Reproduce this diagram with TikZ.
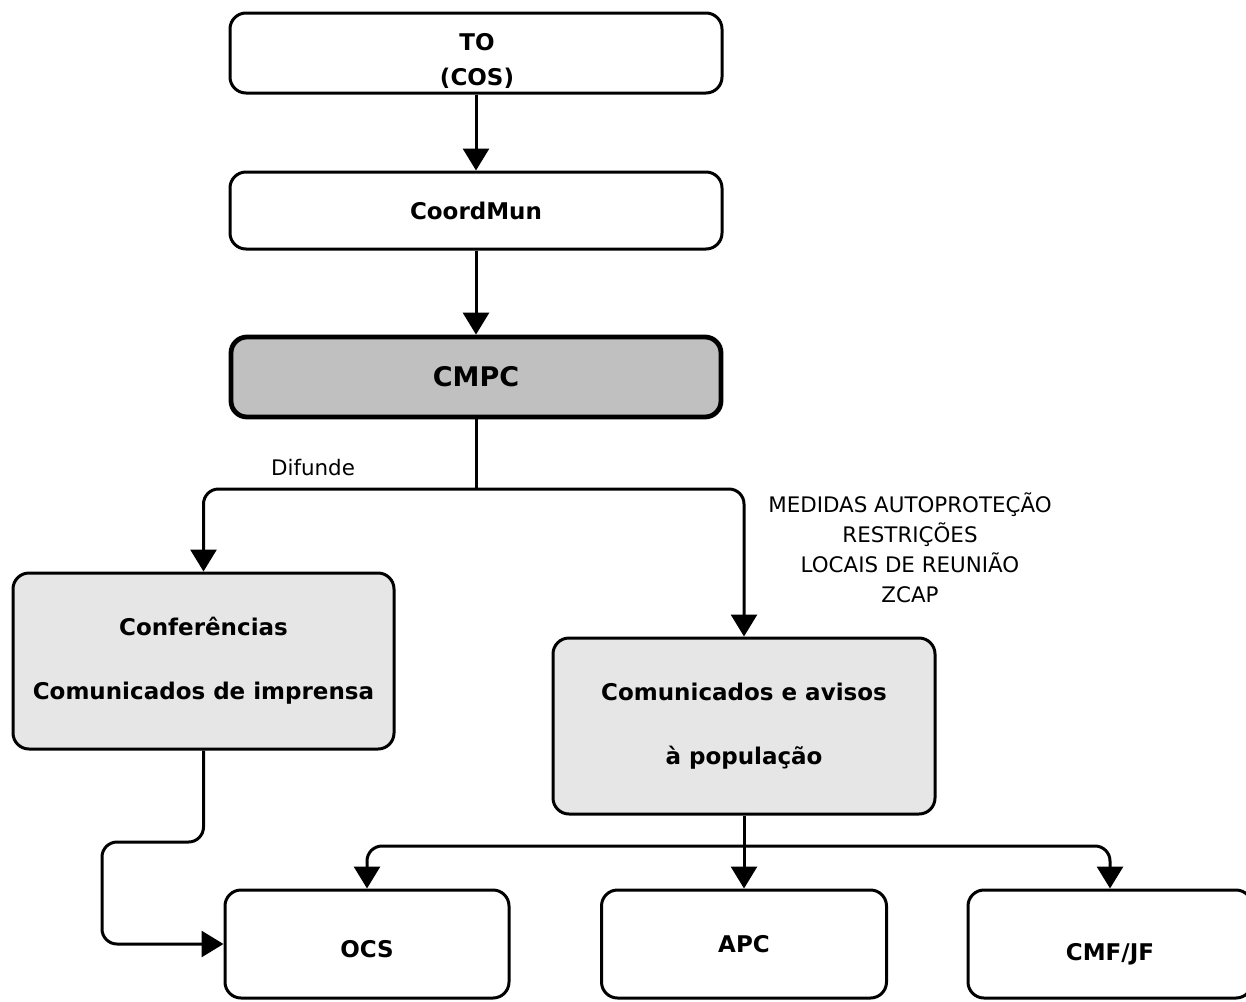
\documentclass[tikz,border=0pt]{standalone}
\usepackage{fontspec}
\setmainfont{DejaVu Sans}
\usetikzlibrary{arrows.meta}
\definecolor{cmpcgray}{RGB}{192,192,192}
\definecolor{lightbox}{RGB}{230,230,230}
\begin{document}
\begin{tikzpicture}[x=0.5pt,y=-0.5pt,
  box/.style={draw, line width=1.5pt, rounded corners=8pt, inner sep=0pt,
    align=center, font=\fontsize{11.5}{17.5}\selectfont\bfseries},
  tallbox/.style={box, fill=lightbox, font=\fontsize{11.5}{32}\selectfont\bfseries},
  boxtext/.style={inner sep=0pt, align=center, font=\fontsize{11.5}{17.5}\selectfont\bfseries},
  link/.style={line width=1.5pt, rounded corners=7.5pt},
  arrow/.style={link, -{Triangle[length=11pt,width=13pt]}},
  note/.style={inner sep=0pt, align=center, font=\fontsize{10.7}{15}\selectfont}]
\useasboundingbox (0,0) rectangle (1246,1001);
\clip (0,0) rectangle (1246,1001);

% command chain
\node[box, minimum width=246pt, minimum height=40pt] (to) at (476,53) {};
\node[boxtext] (tolabel) at (477,61) {TO\\(COS)};
\node[box, minimum width=246pt, minimum height=38.5pt] (coord) at (476,210.5) {CoordMun};
\node[box, fill=cmpcgray, line width=2.4pt, minimum width=245pt, minimum height=40pt,
  font=\fontsize{13.5}{16}\selectfont\bfseries] (cmpc) at (476,377) {CMPC};

% communication products
\node[tallbox, minimum width=190.5pt, minimum height=88pt] (conf) at (203.5,661)
  {Conferências\\Comunicados de imprensa};
\node[tallbox, minimum width=191pt, minimum height=88pt] (avisos) at (744,726)
  {Comunicados e avisos\\à população};

% recipients
\node[box, minimum width=142pt, minimum height=54pt, text height=13.4pt, text depth=0pt] (ocs) at (367,944) {OCS};
\node[box, minimum width=142.5pt, minimum height=54pt] (apc) at (744,944) {APC};
\node[box, minimum width=142pt, minimum height=54pt, text height=16pt, text depth=0pt] (cmf) at (1110,944) {CMF/JF};

% labels
\node[note] (difunde) at (313,468) {Difunde};
\node[note] (measures) at (910,548)
  {MEDIDAS AUTOPROTEÇÃO\\RESTRIÇÕES\\LOCAIS DE REUNIÃO\\ZCAP};

% connectors
\draw[arrow] (to) -- (coord);
\draw[arrow] (coord) -- (cmpc);
\coordinate (split) at (cmpc.south |- 0,489);
\draw[link] (cmpc.south) -- (split);
\draw[arrow] (split) -| (conf.north);
\draw[arrow] (split) -| (avisos.north);

\coordinate (split2) at (avisos.south |- 0,846);
\draw[arrow] (avisos.south) -- (apc.north);
\draw[arrow] (split2) -| (ocs.north);
\draw[arrow] (split2) -| (cmf.north);

\draw[arrow] (conf.south) -- (conf.south |- 0,842) -- (102,842) -- (102,944) -- (ocs.west);
\end{tikzpicture}
\end{document}
